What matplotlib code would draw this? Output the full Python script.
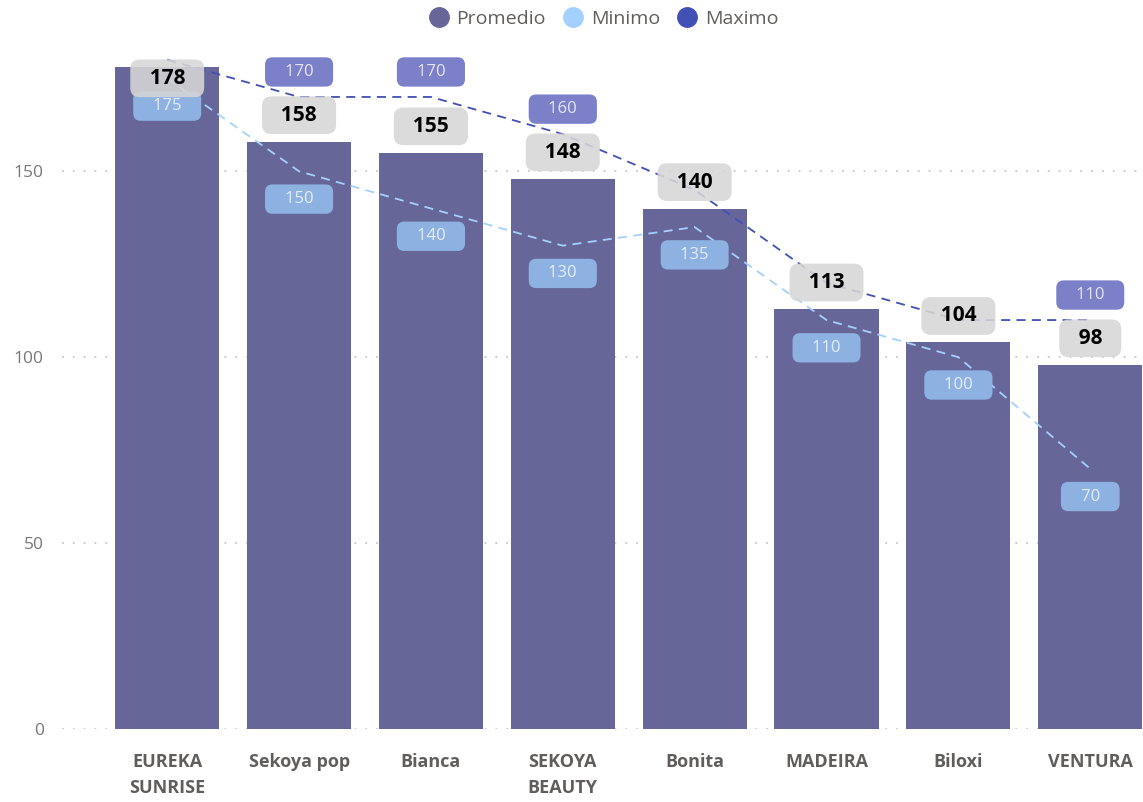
""" plot.py """

import numpy as np
import matplotlib.pyplot as plt
from matplotlib.lines import Line2D

plt.rcParams['font.family'] = ['Open Sans', 'DejaVu Sans']

# data
categories = ["EUREKA\nSUNRISE", "Sekoya pop", "Bianca", "SEKOYA\nBEAUTY",
              "Bonita", "MADEIRA", "Biloxi", "VENTURA"]
promedio = [178, 158, 155, 148, 140, 113, 104, 98]
minimo = [175, 150, 140, 130, 135, 110, 100, 70]
maximo = [180, 170, 170, 160, 145, 120, 110, 110]
show_max_label = [False, True, True, True, False, False, False, True]

bar_color = "#666699"
min_color = "#a3d1ff"
max_color = "#4150b5"
grey_text = "#605e5c"

fig = plt.figure(figsize=(11.43, 8.02), dpi=100)
ax = fig.add_axes([0.054, 0.091, 0.946, 0.853])

x = np.arange(len(categories))
ax.bar(x, promedio, width=0.79, color=bar_color, zorder=2)
ax.plot(x, maximo, color=max_color, lw=1.3, ls=(0, (5, 3.5)), zorder=3)
ax.plot(x, minimo, color=min_color, lw=1.3, ls=(0, (5, 3.5)), zorder=3)

ax.set_xlim(-0.8, 7.4)
ax.set_ylim(0, 184)
ax.set_yticks([0, 50, 100, 150])
ax.set_xticks(x)
ax.set_xticklabels(categories, fontsize=13, fontweight='bold', color=grey_text,
                   linespacing=1.6, va='top')
ax.tick_params(axis='x', length=0, pad=17)
ax.tick_params(axis='y', length=0, labelsize=12.5, labelcolor="#777777", pad=13)
ax.grid(axis='y', color="#c8c8c8", ls=(0, (1, 5)), lw=1.3, zorder=0)
for s in ax.spines.values():
    s.set_visible(False)

# data labels
def label(xv, yv, txt, dy, fc, tc, weight='normal', size=12, alpha=1.0):
    ax.annotate(txt, (xv, yv), xytext=(0, dy), textcoords='offset points',
                ha='center', va='center', fontsize=size, fontweight=weight,
                color=tc, zorder=5,
                bbox=dict(boxstyle="round,pad=0.4,rounding_size=0.45",
                          fc=fc, ec='none', alpha=alpha))

for i in x:
    label(i, minimo[i], f"   {minimo[i]}   ", -20, "#8db2e2", "#e6edf8")
    if show_max_label[i]:
        label(i, maximo[i], f"   {maximo[i]}   ", 18, "#7b80c8", "#e4e6f6")
    dy = 19 if promedio[i] < 170 else -8
    label(i, promedio[i], f"  {promedio[i]}  ", dy, "#d6d6d6", "black",
          weight='bold', size=15, alpha=0.88)

handles = [Line2D([], [], marker='o', ls='none', ms=14, color=c)
           for c in (bar_color, min_color, max_color)]
fig.legend(handles, ["Promedio", "Minimo", "Maximo"], loc='center',
           bbox_to_anchor=(0.524, 0.976), ncol=3, frameon=False,
           handletextpad=-0.1, columnspacing=0.4, fontsize=14,
           labelcolor=grey_text)

fig.savefig("out.png", dpi=100)
